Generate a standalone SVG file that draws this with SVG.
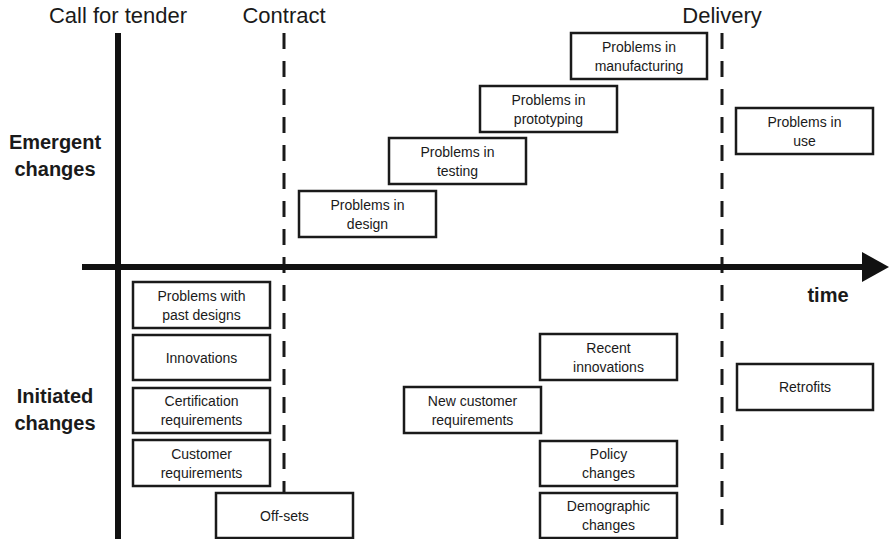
<svg xmlns="http://www.w3.org/2000/svg" width="889" height="539" viewBox="0 0 889 539">
  <style>
    .box { fill: #ffffff; stroke: #1a1a1a; stroke-width: 2.5; }
    .lbl { font-family: "Liberation Sans", Arial, sans-serif; font-size: 14px; fill: #1a1a1a; text-anchor: middle; }
    .milestone { font-family: "Liberation Sans", Arial, sans-serif; font-size: 22px; fill: #1a1a1a; text-anchor: middle; }
    .cat { font-family: "Liberation Sans", Arial, sans-serif; font-size: 20px; font-weight: bold; fill: #1a1a1a; text-anchor: middle; }
    .dash { stroke: #1a1a1a; stroke-width: 3; stroke-dasharray: 16 12; fill: none; }
    .axis { stroke: #111111; stroke-width: 6; fill: none; }
  </style>
  <defs>
    <marker id="arrowhead" markerUnits="userSpaceOnUse" markerWidth="28" markerHeight="32" refX="0" refY="15" orient="auto">
      <path d="M0,0 L27,15 L0,30 Z" fill="#111111"/>
    </marker>
  </defs>

  <rect width="889" height="539" fill="#ffffff"/>

  <!-- Milestone labels -->
  <text class="milestone" x="118" y="23">Call for tender</text>
  <text class="milestone" x="284" y="23">Contract</text>
  <text class="milestone" x="722" y="23">Delivery</text>

  <!-- Category labels -->
  <text class="cat" x="55" y="149">Emergent</text>
  <text class="cat" x="55" y="176">changes</text>
  <text class="cat" x="55" y="403">Initiated</text>
  <text class="cat" x="55" y="430">changes</text>
  <text class="cat" x="828" y="302">time</text>

  <!-- Axes and milestone lines -->
  <g id="connectors">
    <line class="axis" x1="118" y1="33" x2="118" y2="539"/>
    <line class="dash" x1="284" y1="33" x2="284" y2="493"/>
    <line class="dash" x1="722" y1="33" x2="722" y2="530"/>
    <line class="axis" x1="82" y1="267" x2="862" y2="267" marker-end="url(#arrowhead)"/>
  </g>

  <!-- Emergent changes -->
  <g id="problems-design">
    <rect class="box" x="299" y="191" width="137" height="46"/>
    <text class="lbl" x="367.5" y="209.5">Problems in</text>
    <text class="lbl" x="367.5" y="228.5">design</text>
  </g>
  <g id="problems-testing">
    <rect class="box" x="389" y="138" width="137" height="46"/>
    <text class="lbl" x="457.5" y="156.5">Problems in</text>
    <text class="lbl" x="457.5" y="175.5">testing</text>
  </g>
  <g id="problems-prototyping">
    <rect class="box" x="480" y="86" width="137" height="46"/>
    <text class="lbl" x="548.5" y="104.5">Problems in</text>
    <text class="lbl" x="548.5" y="123.5">prototyping</text>
  </g>
  <g id="problems-manufacturing">
    <rect class="box" x="571" y="33" width="136" height="46"/>
    <text class="lbl" x="639" y="51.5">Problems in</text>
    <text class="lbl" x="639" y="70.5">manufacturing</text>
  </g>
  <g id="problems-use">
    <rect class="box" x="736" y="108" width="137" height="46"/>
    <text class="lbl" x="804.5" y="126.5">Problems in</text>
    <text class="lbl" x="804.5" y="145.5">use</text>
  </g>

  <!-- Initiated changes -->
  <g id="past-designs">
    <rect class="box" x="133" y="282" width="137" height="46"/>
    <text class="lbl" x="201.5" y="300.5">Problems with</text>
    <text class="lbl" x="201.5" y="319.5">past designs</text>
  </g>
  <g id="innovations">
    <rect class="box" x="133" y="335" width="137" height="45"/>
    <text class="lbl" x="201.5" y="362.5">Innovations</text>
  </g>
  <g id="certification">
    <rect class="box" x="133" y="388" width="137" height="45"/>
    <text class="lbl" x="201.5" y="406">Certification</text>
    <text class="lbl" x="201.5" y="425">requirements</text>
  </g>
  <g id="customer-requirements">
    <rect class="box" x="133" y="440" width="137" height="46"/>
    <text class="lbl" x="201.5" y="458.5">Customer</text>
    <text class="lbl" x="201.5" y="477.5">requirements</text>
  </g>
  <g id="off-sets">
    <rect class="box" x="216" y="493" width="137" height="45"/>
    <text class="lbl" x="284.5" y="520.5">Off-sets</text>
  </g>
  <g id="new-customer-requirements">
    <rect class="box" x="404" y="387" width="137" height="46"/>
    <text class="lbl" x="472.5" y="405.5">New customer</text>
    <text class="lbl" x="472.5" y="424.5">requirements</text>
  </g>
  <g id="recent-innovations">
    <rect class="box" x="540" y="334" width="137" height="46"/>
    <text class="lbl" x="608.5" y="352.5">Recent</text>
    <text class="lbl" x="608.5" y="371.5">innovations</text>
  </g>
  <g id="policy-changes">
    <rect class="box" x="540" y="441" width="137" height="45"/>
    <text class="lbl" x="608.5" y="459">Policy</text>
    <text class="lbl" x="608.5" y="478">changes</text>
  </g>
  <g id="demographic-changes">
    <rect class="box" x="540" y="493" width="137" height="45"/>
    <text class="lbl" x="608.5" y="511">Demographic</text>
    <text class="lbl" x="608.5" y="530">changes</text>
  </g>
  <g id="retrofits">
    <rect class="box" x="737" y="364" width="136" height="46"/>
    <text class="lbl" x="805" y="392">Retrofits</text>
  </g>
</svg>
